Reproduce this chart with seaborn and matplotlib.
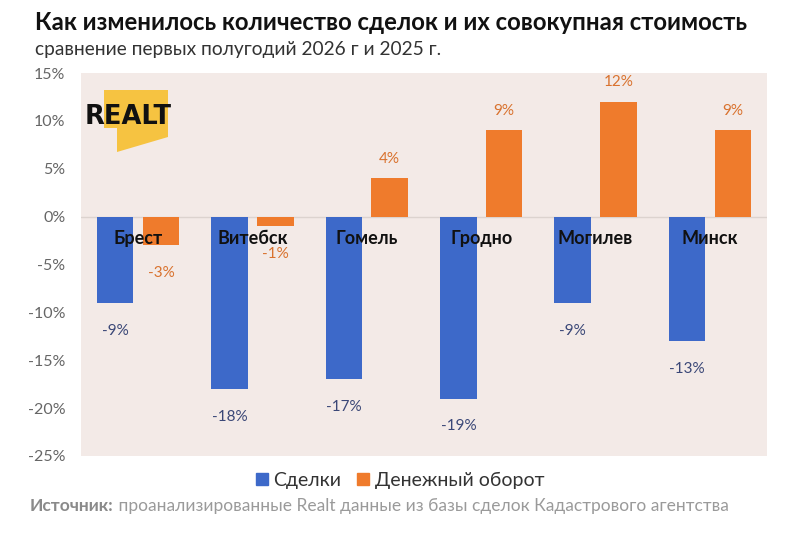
import matplotlib
matplotlib.use("Agg")
import matplotlib.pyplot as plt
from matplotlib.patches import Polygon
import seaborn as sns
import pandas as pd

cities = ["Брест", "Витебск", "Гомель", "Гродно", "Могилев", "Минск"]
deals = [-9, -18, -17, -19, -9, -13]
turnover = [-3, -1, 4, 9, 12, 9]
series_names = ["Сделки", "Денежный оборот"]
yticks = [15, 10, 5, 0, -5, -10, -15, -20, -25]

title = "Как изменилось количество сделок и их совокупная стоимость"
subtitle = "сравнение первых полугодий 2026 г и 2025 г."
source_bold = "Источник:"
source_rest = " проанализированные Realt данные из базы сделок Кадастрового агентства"

BLUE = "#3d69c9"
ORANGE = "#ef7b2c"
BLUE_TXT = "#3a4777"
ORANGE_TXT = "#d9722e"

sns.set_theme(style="white")
plt.rcParams["font.family"] = ["Lato", "DejaVu Sans"]

df = pd.DataFrame({
    "city": cities * 2,
    "value": deals + turnover,
    "series": [series_names[0]] * len(cities) + [series_names[1]] * len(cities),
})

fig = plt.figure(figsize=(8, 5.33), dpi=100)
ax = fig.add_axes([0.101, 0.1445, 0.858, 0.7185])
ax.set_facecolor("#f3eae7")

sns.barplot(data=df, x="city", y="value", hue="series", order=cities,
            hue_order=series_names, palette=[BLUE, ORANGE], saturation=1,
            width=0.8, gap=0.2, linewidth=0, ax=ax, legend=False, zorder=3)

ax.axhline(0, color="#dcd3cf", lw=1.0, zorder=2)
ax.set_xlim(-0.5, len(cities) - 0.5)
ax.set_ylim(-25, 15)
ax.set_yticks(yticks)
ax.set_yticklabels([f"{t}%" for t in yticks], color="#666666", fontsize=11.5)
ax.tick_params(axis="y", length=0, pad=11)
ax.set_xticks([])
ax.set_xlabel("")
ax.set_ylabel("")
for s in ax.spines.values():
    s.set_visible(False)

# value labels
for i, v in enumerate(deals):
    ax.annotate(f"{v}%", (i - 0.2, v), xytext=(0, -20), textcoords="offset points",
                ha="center", va="center", color=BLUE_TXT, fontsize=11)
for i, v in enumerate(turnover):
    off = 14 if v >= 0 else -20
    ax.annotate(f"{v}%", (i + 0.2, v), xytext=(0, off), textcoords="offset points",
                ha="center", va="center", color=ORANGE_TXT, fontsize=11)

# city names
for i, c in enumerate(cities):
    ax.text(i, -2.3, c, ha="center", va="center", fontsize=13,
            fontweight="bold", color="#111111", zorder=5)

# logo
W, H = 800, 533
pts = [(104, 90), (168, 90), (168, 137), (117, 152), (117, 128), (104, 128)]
fig.patches.append(Polygon([(x / W, 1 - y / H) for x, y in pts], closed=True,
                           transform=fig.transFigure, facecolor="#f6c341",
                           edgecolor="none", zorder=4))
fig.text(85 / W, 1 - 117 / H, "REALT", fontsize=18.5, fontweight="bold",
         family="DejaVu Sans", color="#111111", ha="left", va="center", zorder=6)

# titles
fig.text(35 / W, 1 - 22 / H, title, fontsize=17.2, fontweight="bold",
         color="#111111", ha="left", va="center")
fig.text(35 / W, 1 - 49 / H, subtitle, fontsize=13.8, color="#333333",
         ha="left", va="center")

# legend
handles = [plt.Rectangle((0, 0), 1, 1, color=BLUE),
           plt.Rectangle((0, 0), 1, 1, color=ORANGE)]
fig.legend(handles, series_names, loc="center", bbox_to_anchor=(0.5, 1 - 480 / H),
           ncol=2, frameon=False, fontsize=14, handlelength=0.6, handleheight=0.6,
           handletextpad=0.3, columnspacing=0.8, labelcolor="#333333")

# source
t = fig.text(30 / W, 1 - 506 / H, source_bold, fontsize=12.5, fontweight="bold",
             color="#8a8a8a", ha="left", va="center")
fig.canvas.draw()
bb = t.get_window_extent()
fig.text(bb.x1 / W, 1 - 506 / H, source_rest, fontsize=12.5, color="#9a9a9a",
         ha="left", va="center")

fig.savefig("out.png", dpi=100)
